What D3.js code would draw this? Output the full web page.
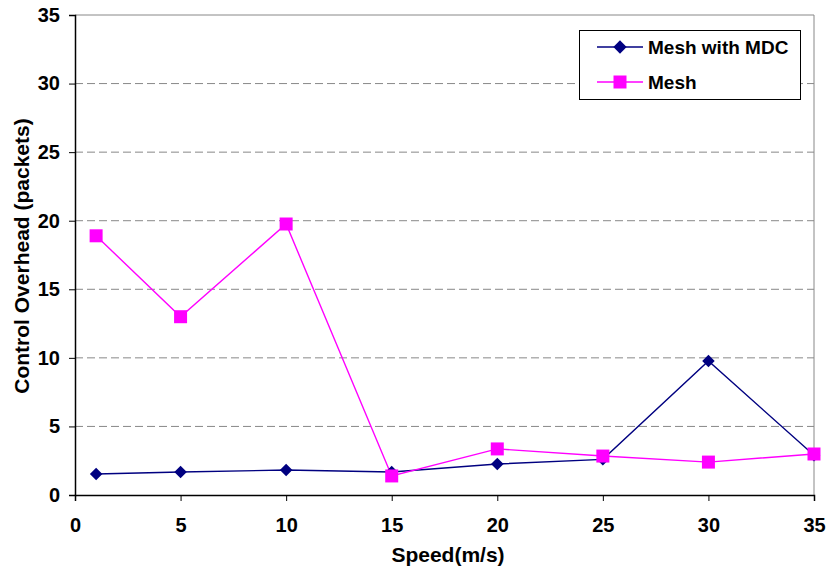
<!DOCTYPE html>
<html><head><meta charset="utf-8">
<script src="https://cdn.jsdelivr.net/npm/d3@7"></script>
<style>body{margin:0;background:#fff}text{font-family:"Liberation Sans",Arial,sans-serif;font-weight:bold}</style>
</head><body>
<svg id="c" width="829" height="569"></svg>
<script>
const speeds = [1, 5, 10, 15, 20, 25, 30, 35];
const meshMDC = [1.53, 1.68, 1.82, 1.68, 2.26, 2.6, 9.77, 2.9];
const mesh = [18.9, 13.0, 19.76, 1.39, 3.36, 2.84, 2.4, 2.99];
const xTicks = [0, 5, 10, 15, 20, 25, 30, 35];
const yTicks = [0, 5, 10, 15, 20, 25, 30, 35];
const seriesNames = ["Mesh with MDC", "Mesh"];

const svg = d3.select("#c");
const L = 75, R = 814, T = 15, B = 495;
const x = d3.scaleLinear().domain([0, 35]).range([L, R]);
const y = d3.scaleLinear().domain([0, 35]).range([B, T]);

// gridlines
svg.append("g").selectAll("line").data(yTicks.filter(d => d > 0 && d < 35)).join("line")
  .attr("x1", L).attr("x2", R).attr("y1", d => y(d)).attr("y2", d => y(d))
  .attr("stroke", "#888").attr("stroke-width", 1).attr("stroke-dasharray", "8,4");
// plot border top/right
svg.append("path").attr("d", `M${L},${T}H${R}V${B}`).attr("fill", "none").attr("stroke", "#888").attr("stroke-width", 1);

const xAxis = svg.append("g").attr("transform", `translate(0,${B})`)
  .call(d3.axisBottom(x).tickValues(xTicks).tickSize(6).tickPadding(17));
const yAxis = svg.append("g").attr("transform", `translate(${L},0)`)
  .call(d3.axisLeft(y).tickValues(yTicks).tickSize(6).tickPadding(9));
[xAxis, yAxis].forEach(a => {
  a.select(".domain").attr("stroke", "#000").attr("stroke-width", 1.5);
  a.selectAll(".tick line").attr("stroke", "#000");
  a.selectAll("text").attr("font-size", 20).attr("font-family", "Liberation Sans, Arial, sans-serif").attr("font-weight", "bold").attr("fill", "#000");
});

svg.append("text").attr("x", 448).attr("y", 562).attr("text-anchor", "middle")
  .attr("font-size", 21).text("Speed(m/s)");
svg.append("text").attr("transform", `translate(29,256) rotate(-90)`).attr("text-anchor", "middle")
  .attr("font-size", 21).text("Control Overhead (packets)");

const line = d3.line().x((d, i) => x(speeds[i])).y(d => y(d));
const diamond = d3.symbol().type(d3.symbolDiamond2).size(100);
const square = d3.symbol().type(d3.symbolSquare).size(169);

svg.append("path").datum(meshMDC).attr("d", line).attr("fill", "none").attr("stroke", "#000080").attr("stroke-width", 1.4);
svg.append("path").datum(mesh).attr("d", line).attr("fill", "none").attr("stroke", "#FF00FF").attr("stroke-width", 1.4);
svg.append("g").selectAll("path").data(meshMDC).join("path")
  .attr("transform", (d, i) => `translate(${x(speeds[i])},${y(d)})`).attr("d", diamond).attr("fill", "#000080");
svg.append("g").selectAll("path").data(mesh).join("path")
  .attr("transform", (d, i) => `translate(${x(speeds[i])},${y(d)})`).attr("d", square).attr("fill", "#FF00FF");

// legend
const lg = svg.append("g");
lg.append("rect").attr("x", 579.5).attr("y", 30.5).attr("width", 221).attr("height", 69)
  .attr("fill", "#fff").attr("stroke", "#000").attr("stroke-width", 1);
const colors = ["#000080", "#FF00FF"];
const syms = [diamond, square];
seriesNames.forEach((n, i) => {
  const yy = 47 + i * 35;
  lg.append("line").attr("x1", 597).attr("x2", 643).attr("y1", yy).attr("y2", yy).attr("stroke", colors[i]).attr("stroke-width", 1.4);
  lg.append("path").attr("transform", `translate(620,${yy})`).attr("d", i === 0 ? d3.symbol().type(d3.symbolDiamond2).size(112)() : syms[i]()).attr("fill", colors[i]);
  lg.append("text").attr("x", 648).attr("y", yy + 6.5).attr("font-size", 19).text(n);
});
</script>
</body></html>
